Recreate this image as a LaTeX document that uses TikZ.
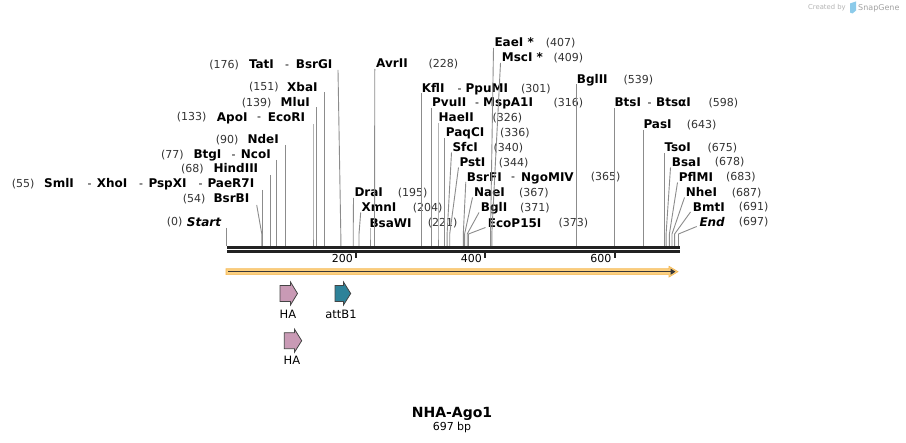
\documentclass[tikz,border=0pt]{standalone}
\usepackage{fontspec}
\setmainfont{DejaVu Sans}
\usetikzlibrary{arrows.meta}
\definecolor{numc}{HTML}{333333}
\definecolor{linec}{HTML}{8C8C8C}
\definecolor{basec}{HTML}{222222}
\definecolor{orfill}{HTML}{FCD080}
\definecolor{oredge}{HTML}{F5B750}
\definecolor{hafill}{HTML}{C99AB5}
\definecolor{attfill}{HTML}{2E8299}
\definecolor{featedge}{HTML}{444444}
\definecolor{sgray}{HTML}{B4B4B4}
\definecolor{sblue}{HTML}{8CCBEA}
\tikzset{
  enzst/.style={font=\fontsize{12}{14}\selectfont\bfseries, inner sep=0pt, anchor=base west},
  numst/.style={font=\fontsize{11}{13}\selectfont, text=numc, inner sep=0pt, anchor=base west},
  hyst/.style={font=\fontsize{11}{13}\selectfont, inner sep=0pt, anchor=base},
  cutst/.style={draw=linec, line width=0.9pt},
  featst/.style={draw=featedge, line width=0.8pt, line join=miter},
  featlab/.style={font=\fontsize{11.5}{13}\selectfont, inner sep=0pt, anchor=base},
}
\newcommand\enz[4]{\node[enzst] (#1) at (#2,#3+4.4) {#4};}
\newcommand\enznum[4]{\node[numst] (#1) at (#2,#3+4.2) {#4};}
\newcommand\enzhy[3]{\node[hyst] (#1) at (#2,#3+4.2) {-};}
\newcommand\cutln[4]{\coordinate (#1t) at (#2,#3); \coordinate (#1m) at (#4,234); \coordinate (#1b) at (#4,246); \draw[cutst] (#1t) -- (#1m) -- (#1b);}
\begin{document}
\begin{tikzpicture}[x=1pt,y=-1pt]
\fill[white] (0,0) rectangle (906,443);
\useasboundingbox (0,0) rectangle (906,443);

% ---------- left labels ----------
\cutln{c0}{226.8}{228}{226.8}
\enznum{n0}{166.7}{221.7}{(0)}
\enz{e0}{186.7}{221.7}{\itshape Start}

\cutln{c54}{256.7}{205}{261.8}
\enznum{n54}{182.7}{198.3}{(54)}
\enz{e54}{213.3}{198.3}{BsrBI}

\cutln{c55}{262.4}{190}{262.4}
\enznum{n55}{11.7}{183.3}{(55)}
\enz{e55a}{44}{183.3}{SmlI}
\enzhy{h55a}{89.5}{183.3}
\enz{e55b}{96.7}{183.3}{XhoI}
\enzhy{h55b}{141.2}{183.3}
\enz{e55c}{148.3}{183.3}{PspXI}
\enzhy{h55c}{200.5}{183.3}
\enz{e55d}{207.3}{183.3}{PaeR7I}

\cutln{c68}{270.9}{175}{270.9}
\enznum{n68}{181}{168.3}{(68)}
\enz{e68}{213.3}{168.3}{HindIII}

\cutln{c77}{276.7}{160}{276.7}
\enznum{n77}{161}{154.3}{(77)}
\enz{e77a}{193.3}{154.3}{BtgI}
\enzhy{h77}{233.5}{154.3}
\enz{e77b}{240.7}{154.3}{NcoI}

\cutln{c90}{285.1}{145}{285.1}
\enznum{n90}{215.7}{139.3}{(90)}
\enz{e90}{247.3}{139.3}{NdeI}

\cutln{c133}{313}{124}{313}
\enznum{n133}{176.7}{116.7}{(133)}
\enz{e133a}{216.7}{116.7}{ApoI}
\enzhy{h133}{259}{116.7}
\enz{e133b}{267.7}{116.7}{EcoRI}

\cutln{c139}{316.9}{107.5}{316.9}
\enznum{n139}{241.7}{102.3}{(139)}
\enz{e139}{280.5}{102.3}{MluI}

\cutln{c151}{324.6}{92.5}{324.6}
\enznum{n151}{248.8}{86.7}{(151)}
\enz{e151}{287}{86.7}{XbaI}

\cutln{c176}{338}{70}{340.8}
\enznum{n176}{209.2}{64}{(176)}
\enz{e176a}{248.8}{64}{TatI}
\enzhy{h176}{287}{64}
\enz{e176b}{295.7}{64}{BsrGI}

% ---------- right labels ----------
\cutln{c195}{353.5}{198}{353.2}
\enz{e195}{354.3}{192.3}{DraI}
\enznum{n195}{397.7}{192.3}{(195)}

\cutln{c204}{360.7}{212.5}{359}
\enz{e204}{361.3}{207.3}{XmnI}
\enznum{n204}{412.7}{207.3}{(204)}

\cutln{c221}{370}{228}{370}
\enz{e221}{369.3}{222.7}{BsaWI}
\enznum{n221}{427.7}{222.7}{(221)}

\cutln{c228}{374.8}{69}{374.5}
\enz{e228}{376}{63.3}{AvrII}
\enznum{n228}{428.5}{63.3}{(228)}

\cutln{c301}{421.8}{93}{421.8}
\enz{e301a}{421.7}{88}{KflI}
\enzhy{h301}{459.5}{88}
\enz{e301b}{465.5}{88}{PpuMI}
\enznum{n301}{521}{88}{(301)}

\cutln{c316}{431.6}{108}{431.6}
\enz{e316a}{432}{102.3}{PvuII}
\enzhy{h316}{477}{102.3}
\enz{e316b}{483}{102.3}{MspA1I}
\enznum{n316}{553.5}{102.3}{(316)}

\cutln{c326}{438}{123}{438}
\enz{e326}{438.5}{117.3}{HaeII}
\enznum{n326}{492.3}{117.3}{(326)}

\cutln{c336}{444.5}{138}{444.5}
\enz{e336}{445.7}{132.3}{PaqCI}
\enznum{n336}{500}{132.3}{(336)}

\cutln{c340}{451.5}{152.5}{447.1}
\enz{e340}{452.3}{147.3}{SfcI}
\enznum{n340}{493.3}{147.3}{(340)}

\cutln{c344}{458.5}{167.5}{449.7}
\enz{e344}{459.3}{162.3}{PstI}
\enznum{n344}{498.7}{162.3}{(344)}

\cutln{c365}{465.8}{182}{463.3}
\enz{e365a}{466.7}{176.7}{BsrFI}
\enzhy{h365}{513}{176.7}
\enz{e365b}{521}{176.7}{NgoMIV}
\enznum{n365}{590.7}{176.7}{(365)}

\cutln{c367}{472.5}{197.5}{464.6}
\enz{e367}{474}{192.3}{NaeI}
\enznum{n367}{519}{192.3}{(367)}

\cutln{c371}{479}{212.5}{467.2}
\enz{e371}{480.7}{207.3}{BglI}
\enznum{n371}{520}{207.3}{(371)}

\cutln{c373}{485.5}{227.5}{468.5}
\enz{e373}{487.7}{222.7}{EcoP15I}
\enznum{n373}{558.3}{222.7}{(373)}

\cutln{c407}{493.5}{48}{490.5}
\enz{e407}{494.3}{42.3}{EaeI *}
\enznum{n407}{545.7}{42.3}{(407)}

\cutln{c409}{500.5}{63}{491.8}
\enz{e409}{501.7}{57.3}{MscI *}
\enznum{n409}{553.3}{57.3}{(409)}

\cutln{c539}{576.1}{84.5}{576.1}
\enz{e539}{576.7}{79}{BglII}
\enznum{n539}{623.3}{79}{(539)}

\cutln{c598}{614.3}{108}{614.3}
\enz{e598a}{614.3}{102.3}{BtsI}
\enzhy{h598}{649.5}{102.3}
\enz{e598b}{656}{102.3}{BtsαI}
\enznum{n598}{708.3}{102.3}{(598)}

\cutln{c643}{643.5}{130}{643.5}
\enz{e643}{643.3}{124}{PasI}
\enznum{n643}{686.7}{124}{(643)}

\cutln{c675}{664.2}{153}{664.2}
\enz{e675}{664.3}{147.3}{TsoI}
\enznum{n675}{707.3}{147.3}{(675)}

\cutln{c678}{670.5}{167.5}{666.1}
\enz{e678}{671.7}{161.7}{BsaI}
\enznum{n678}{714.7}{161.7}{(678)}

\cutln{c683}{677.5}{182.5}{669.4}
\enz{e683}{678.7}{176.7}{PflMI}
\enznum{n683}{726}{176.7}{(683)}

\cutln{c687}{684.5}{197.5}{672}
\enz{e687}{685.7}{192}{NheI}
\enznum{n687}{731.7}{192}{(687)}

\cutln{c691}{690.5}{212}{674.6}
\enz{e691}{692.7}{206.7}{BmtI}
\enznum{n691}{738.7}{206.7}{(691)}

\cutln{c697}{696.7}{226.5}{678.5}
\enz{e697}{699.3}{221.7}{\itshape End}
\enznum{n697}{738.7}{221.7}{(697)}

% ---------- backbone ----------
\draw[basec, line width=2.6pt] (226.8,247.3) -- (680,247.3);
\draw[basec, line width=2.6pt] (226.8,251.3) -- (680,251.3);
\foreach \tx/\tl in {356/200, 485/400, 614.5/600}{
  \draw[basec, line width=2pt] (\tx,252) -- (\tx,258.5);
  \node[numst, anchor=base east, text=black] at (\tx-3,263) {\tl};
}

% ---------- orange full-length arrow ----------
\fill[orfill, draw=oredge, line width=0.6pt] (226,268.8) -- (669,268.8) -- (669,266.3) -- (678,271.7) -- (669,277.1) -- (669,274.6) -- (226,274.6) -- cycle;
\draw[basec!90, line width=1.4pt, -{Triangle[length=5pt,width=6pt]}] (228,271.7) -- (675.5,271.7);

% ---------- features ----------
\filldraw[featst, fill=hafill] (280,285.5) -- (290.5,285.5) -- (290.5,282) -- (297.5,293.5) -- (290.5,305) -- (290.5,301.5) -- (280,301.5) -- cycle;
\node[featlab] (ha1) at (288,318.5) {HA};
\filldraw[featst, fill=attfill] (335,285.5) -- (343.5,285.5) -- (343.5,282) -- (350.7,293.5) -- (343.5,305) -- (343.5,301.5) -- (335,301.5) -- cycle;
\node[featlab] (att) at (341,318.5) {attB1};
\filldraw[featst, fill=hafill] (284.3,332.7) -- (294.5,332.7) -- (294.5,329.2) -- (301.7,340.7) -- (294.5,352.2) -- (294.5,348.7) -- (284.3,348.7) -- cycle;
\node[featlab] (ha2) at (292,365) {HA};

% ---------- title ----------
\node[font=\fontsize{14}{16}\selectfont\bfseries, inner sep=0pt, anchor=base] (title) at (452,417.5) {NHA-Ago1};
\node[font=\fontsize{11}{13}\selectfont, inner sep=0pt, anchor=base] (len) at (452,431) {697 bp};

% ---------- SnapGene credit ----------
\node[font=\fontsize{6.8}{8}\selectfont, text=sgray, inner sep=0pt, anchor=base west] (cr) at (808,10) {Created by};
\fill[sblue] (850,3.5) -- (856,1.5) -- (856,10.5) -- (852.5,13.5) -- (850,12.5) -- cycle;
\node[font=\fontsize{8}{10}\selectfont, text=sgray!90!black, inner sep=0pt, anchor=base west] (sg) at (858,10.5) {SnapGene};
\end{tikzpicture}
\end{document}
